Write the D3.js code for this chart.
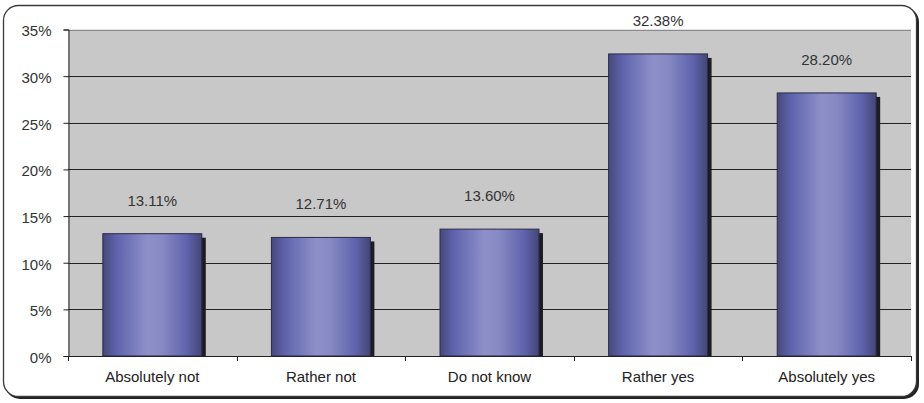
<!DOCTYPE html>
<html>
<head>
<meta charset="utf-8">
<script src="https://cdn.jsdelivr.net/npm/d3@7/dist/d3.min.js"></script>
<style>
  html, body { margin: 0; padding: 0; background: #fff; }
  svg { display: block; font-family: "Liberation Sans", Arial, sans-serif; }
</style>
</head>
<body>
<svg id="chart" width="924" height="403"></svg>
<script>
// Survey answers and their shares (percent)
const categories = ["Absolutely not", "Rather not", "Do not know", "Rather yes", "Absolutely yes"];
const shares = [13.11, 12.71, 13.60, 32.38, 28.20];
const yTicks = [0, 5, 10, 15, 20, 25, 30, 35];

const svg = d3.select("#chart");
const plot = { left: 68, right: 911, top: 29.5, bottom: 356 };
const FONT = 15;

// Frame with rounded corners and a soft drop shadow
svg.append("rect")
  .attr("x", 5).attr("y", 7).attr("width", 914).attr("height", 392)
  .attr("rx", 15).attr("fill", "#222");
svg.append("rect")
  .attr("x", 3.5).attr("y", 5.5).attr("width", 913).attr("height", 391)
  .attr("rx", 15).attr("fill", "#fff").attr("stroke", "#3a3a3a").attr("stroke-width", 1.3);

const x = d3.scaleBand().domain(categories).range([plot.left, plot.right]).paddingInner(0.413).paddingOuter(0.2065);
const y = d3.scaleLinear().domain([0, 35]).range([plot.bottom, plot.top]);

// Plot background
svg.append("rect")
  .attr("x", plot.left).attr("y", y(35))
  .attr("width", plot.right - plot.left).attr("height", y(0) - y(35))
  .attr("fill", "#c8c8c9");

// Horizontal gridlines
svg.append("g").selectAll("line").data(yTicks.filter(t => t > 0)).join("line")
  .attr("x1", plot.left).attr("x2", plot.right)
  .attr("y1", d => Math.round(y(d)) + 0.5).attr("y2", d => Math.round(y(d)) + 0.5)
  .attr("stroke", d => d === 35 ? "#8a8a8a" : "#222").attr("stroke-width", 1);

// Bar gradient: dark edges, light centre
const defs = svg.append("defs");
const grad = defs.append("linearGradient").attr("id", "barGrad")
  .attr("x1", "0%").attr("x2", "100%").attr("y1", "0%").attr("y2", "0%");
[
  [0, "#46497a"], [0.14, "#5f63ad"], [0.45, "#8d90c8"], [0.6, "#8689c3"],
  [0.85, "#5f63ad"], [1, "#434675"]
].forEach(([o, c]) => grad.append("stop").attr("offset", o).attr("stop-color", c));

const bars = svg.append("g");
// Shadows
bars.selectAll("rect.shadow").data(shares).join("rect").attr("class", "shadow")
  .attr("x", (d, i) => x(categories[i]) + 4)
  .attr("y", d => y(d) + 4)
  .attr("width", x.bandwidth())
  .attr("height", d => y(0) - y(d) - 4)
  .attr("fill", "#1c1c22");
// Bars
bars.selectAll("rect.bar").data(shares).join("rect").attr("class", "bar")
  .attr("x", (d, i) => x(categories[i]))
  .attr("y", d => y(d))
  .attr("width", x.bandwidth())
  .attr("height", d => y(0) - y(d))
  .attr("fill", "url(#barGrad)")
  .attr("stroke", "#2b2b4a").attr("stroke-width", 1);

// Value labels above bars
svg.append("g").selectAll("text").data(shares).join("text")
  .attr("x", (d, i) => x(categories[i]) + x.bandwidth() / 2)
  .attr("y", d => y(d) - 28)
  .attr("text-anchor", "middle")
  .attr("font-size", FONT).attr("fill", "#333")
  .text(d => d.toFixed(2) + "%");

// Y axis
const yAxis = d3.axisLeft(y).tickValues(yTicks).tickFormat(d => d + "%").tickSize(5).tickPadding(12);
const gy = svg.append("g").attr("transform", `translate(${plot.left + 0.5},0)`).call(yAxis);
gy.select(".domain").attr("stroke", "#222");
gy.selectAll(".tick line").attr("stroke", "#222");
gy.selectAll(".tick text").attr("font-size", FONT).attr("fill", "#333")
  .attr("dy", "0.42em")
  .attr("font-family", "'Liberation Sans', Arial, sans-serif");

// X axis baseline with ticks at category boundaries
const bounds = d3.range(categories.length + 1).map(i => plot.left + i * (plot.right - plot.left) / categories.length);
svg.append("line")
  .attr("x1", plot.left).attr("x2", plot.right)
  .attr("y1", plot.bottom + 0.5).attr("y2", plot.bottom + 0.5)
  .attr("stroke", "#222");
svg.append("g").selectAll("line").data(bounds).join("line")
  .attr("x1", d => Math.round(d) + 0.5).attr("x2", d => Math.round(d) + 0.5)
  .attr("y1", plot.bottom).attr("y2", plot.bottom + 5)
  .attr("stroke", "#222");

// Category labels
svg.append("g").selectAll("text").data(categories).join("text")
  .attr("x", d => x(d) + x.bandwidth() / 2)
  .attr("y", 382)
  .attr("text-anchor", "middle")
  .attr("font-size", FONT).attr("fill", "#222")
  .text(d => d);
</script>
</body>
</html>
